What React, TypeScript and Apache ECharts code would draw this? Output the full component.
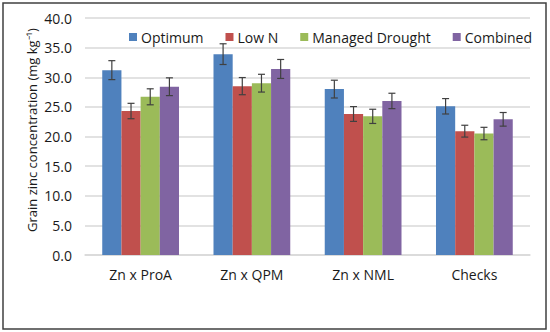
import React, { useEffect, useRef } from "react";
import * as echarts from "echarts";

const categories = ["Zn x ProA", "Zn x QPM", "Zn x NML", "Checks"];
const seriesNames = ["Optimum", "Low N", "Managed Drought", "Combined"];
const optimum = [31.2, 33.9, 28.0, 25.1];
const lowN = [24.3, 28.5, 23.8, 20.9];
const managedDrought = [26.7, 29.0, 23.4, 20.5];
const combined = [28.4, 31.4, 26.0, 22.9];
const optimumErr = [1.6, 1.75, 1.5, 1.3];
const lowNErr = [1.3, 1.45, 1.25, 1.0];
const managedDroughtErr = [1.35, 1.5, 1.2, 1.05];
const combinedErr = [1.5, 1.6, 1.3, 1.15];
const colors = ["#4F81BD", "#C0504D", "#9BBB59", "#8064A2"];
const yTitle = "Grain zinc concentration (mg kg\u207B\u00B9)";

const FONT = "'Open Sans', sans-serif";
const CAT_GAP = 0.31;

export default function App() {
  const ref = useRef<HTMLDivElement>(null);
  useEffect(() => {
    if (!ref.current) return;
    const chart = echarts.init(ref.current, null, { renderer: "svg" });
    const values = [optimum, lowN, managedDrought, combined];
    const errs = [optimumErr, lowNErr, managedDroughtErr, combinedErr];
    const n = values.length;

    const barSeries = values.map((v, i) => ({
      name: seriesNames[i],
      type: "bar",
      data: v,
      itemStyle: { color: colors[i] },
      barGap: "0%",
      barCategoryGap: CAT_GAP * 100 + "%",
    }));

    const errSeries = values.map((v, i) => ({
      name: seriesNames[i] + " error",
      type: "custom",
      z: 10,
      data: v.map((val, j) => [j, val - errs[i][j], val + errs[i][j]]),
      renderItem: (params: any, api: any) => {
        const c = api.value(0);
        const lo = api.coord([c, api.value(1)]);
        const hi = api.coord([c, api.value(2)]);
        const band = api.size([1, 0])[0];
        const bw = (band * (1 - CAT_GAP)) / n;
        const x = lo[0] + (i - (n - 1) / 2) * bw;
        const cap = 3.5;
        const style = { stroke: "#404040", lineWidth: 1.2 };
        return {
          type: "group",
          children: [
            { type: "line", shape: { x1: x, y1: lo[1], x2: x, y2: hi[1] }, style },
            { type: "line", shape: { x1: x - cap, y1: hi[1], x2: x + cap, y2: hi[1] }, style },
            { type: "line", shape: { x1: x - cap, y1: lo[1], x2: x + cap, y2: lo[1] }, style },
          ],
        };
      },
    }));

    chart.setOption({
      animation: false,
      textStyle: { fontFamily: FONT },
      grid: { left: 85, right: 20, top: 18, bottom: 77, containLabel: false },
      legend: {
        data: seriesNames,
        left: 124,
        top: 25,
        itemWidth: 8,
        itemHeight: 8,
        itemGap: 22,
        icon: "rect",
        textStyle: { fontFamily: FONT, fontSize: 14, color: "#1a1a1a", padding: [0, 0, 0, -1] },
      },
      xAxis: {
        type: "category",
        data: categories,
        axisTick: { show: false },
        axisLine: { lineStyle: { color: "#D9D9D9", width: 1.5 } },
        axisLabel: { fontFamily: FONT, fontSize: 14, color: "#1a1a1a", margin: 12 },
      },
      yAxis: {
        type: "value",
        min: 0,
        max: 40,
        interval: 5,
        axisLine: { show: false },
        axisTick: { show: false },
        splitLine: { lineStyle: { color: "#D9D9D9", width: 1.5 } },
        axisLabel: {
          fontFamily: FONT,
          fontSize: 14,
          color: "#1a1a1a",
          margin: 13,
          formatter: (v: number) => v.toFixed(1),
        },
      },
      graphic: [
        {
          type: "rect",
          shape: { x: 3, y: 3, width: 543, height: 326 },
          style: { fill: "none", stroke: "#404040", lineWidth: 1.5 },
          z: 100,
        },
        {
          type: "text",
          x: 32,
          y: 130,
          rotation: Math.PI / 2,
          style: {
            text: yTitle,
            fontFamily: FONT,
            fontSize: 13,
            fill: "#1a1a1a",
            textAlign: "center",
            textVerticalAlign: "middle",
          },
        },
      ],
      series: [...barSeries, ...errSeries],
    });
    return () => chart.dispose();
  }, []);
  return (
    <div
      ref={ref}
      style={{ position: "absolute", left: 0, top: 0, width: 550, height: 332, background: "#fff" }}
    />
  );
}
